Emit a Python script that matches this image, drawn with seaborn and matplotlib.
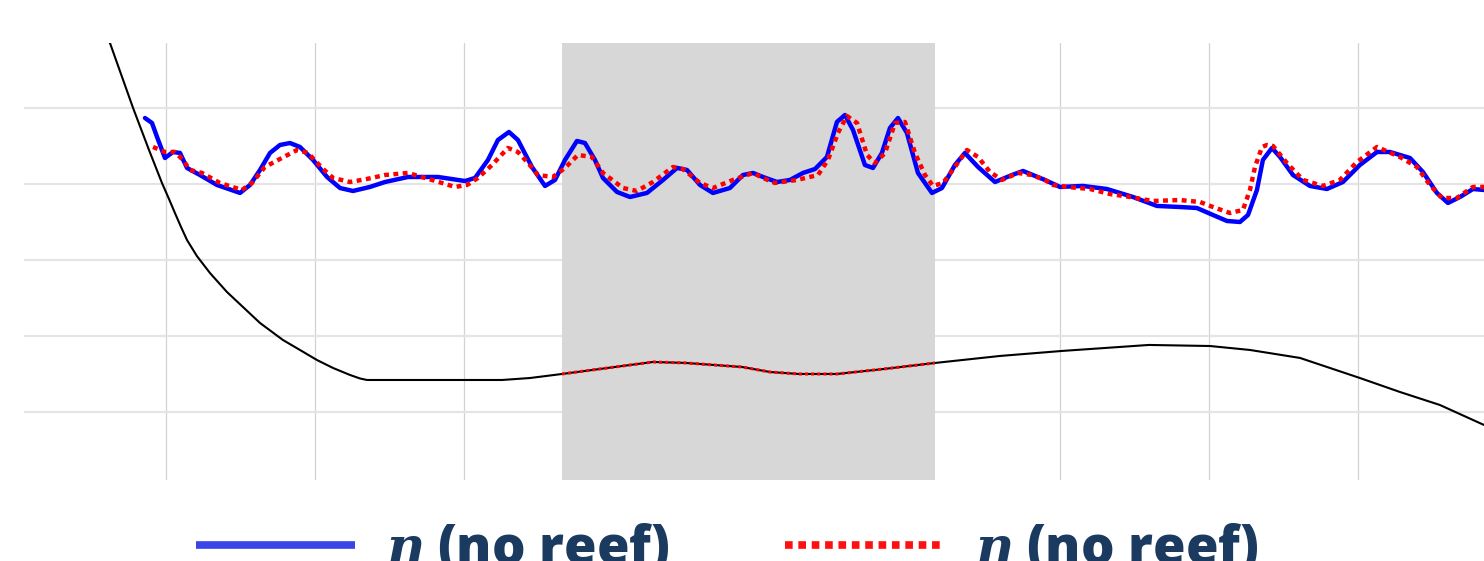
import numpy as np
import pandas as pd
import matplotlib
matplotlib.use('Agg')
import matplotlib.pyplot as plt
from matplotlib.lines import Line2D
import seaborn as sns

# surface elevation, no reef (solid blue)
blue_x = [0.859, 0.906, 0.940, 0.993, 1.047, 1.094, 1.141, 1.228, 1.342, 1.497, 1.564, 1.631, 1.698,
          1.765, 1.832, 1.899, 1.987, 2.081, 2.168, 2.255, 2.369, 2.470, 2.624, 2.826, 3.007, 3.074,
          3.161, 3.228, 3.302, 3.362, 3.456, 3.544, 3.611, 3.678, 3.758, 3.812, 3.879, 3.933, 4.027,
          4.114, 4.228, 4.336, 4.430, 4.497, 4.584, 4.671, 4.785, 4.872, 4.940, 5.007, 5.101, 5.188,
          5.275, 5.356, 5.436, 5.503, 5.557, 5.611, 5.691, 5.745, 5.805, 5.859, 5.913, 5.973, 6.047,
          6.141, 6.208, 6.295, 6.362, 6.450, 6.564, 6.678, 6.752, 6.899, 7.000, 7.154, 7.315, 7.490,
          7.651, 7.805, 7.919, 8.027, 8.121, 8.208, 8.262, 8.322, 8.362, 8.423, 8.477, 8.564, 8.678,
          8.792, 8.899, 9.013, 9.128, 9.215, 9.349, 9.436, 9.530, 9.604, 9.685, 9.772, 9.846]
blue_y = [3.868, 3.803, 3.618, 3.342, 3.421, 3.408, 3.211, 3.118, 2.987, 2.882, 2.987, 3.184, 3.408,
          3.513, 3.539, 3.487, 3.316, 3.092, 2.947, 2.908, 2.961, 3.026, 3.092, 3.092, 3.039, 3.079,
          3.316, 3.579, 3.684, 3.579, 3.224, 2.974, 3.053, 3.316, 3.566, 3.539, 3.316, 3.079, 2.895,
          2.829, 2.882, 3.053, 3.211, 3.184, 2.987, 2.882, 2.947, 3.118, 3.145, 3.092, 3.026, 3.053,
          3.145, 3.197, 3.355, 3.816, 3.908, 3.711, 3.250, 3.211, 3.408, 3.737, 3.868, 3.671, 3.145,
          2.882, 2.947, 3.250, 3.408, 3.224, 3.026, 3.118, 3.171, 3.053, 2.961, 2.974, 2.934, 2.829,
          2.711, 2.697, 2.684, 2.592, 2.513, 2.500, 2.592, 2.921, 3.316, 3.474, 3.355, 3.118, 2.974,
          2.934, 3.026, 3.250, 3.421, 3.421, 3.342, 3.158, 2.882, 2.750, 2.829, 2.934, 2.921]

# surface elevation, second run (dotted red)
red_x = [0.913, 0.993, 1.060, 1.114, 1.161, 1.242, 1.362, 1.510, 1.577, 1.664, 1.765, 1.879, 1.953,
         2.047, 2.121, 2.235, 2.349, 2.470, 2.624, 2.785, 2.940, 3.020, 3.094, 3.188, 3.295, 3.362,
         3.430, 3.497, 3.597, 3.678, 3.765, 3.859, 3.933, 4.067, 4.161, 4.268, 4.403, 4.470, 4.584,
         4.671, 4.805, 4.940, 5.007, 5.087, 5.235, 5.376, 5.443, 5.510, 5.570, 5.638, 5.705, 5.758,
         5.826, 5.893, 5.960, 6.027, 6.094, 6.148, 6.215, 6.295, 6.376, 6.450, 6.530, 6.611, 6.718,
         6.812, 6.899, 6.953, 7.047, 7.201, 7.336, 7.470, 7.624, 7.805, 7.940, 8.027, 8.141, 8.228,
         8.275, 8.309, 8.356, 8.389, 8.430, 8.523, 8.631, 8.765, 8.879, 8.993, 9.128, 9.282, 9.396,
         9.483, 9.564, 9.664, 9.772, 9.846]
red_y = [3.487, 3.421, 3.421, 3.316, 3.184, 3.145, 3.013, 2.921, 3.013, 3.224, 3.329, 3.447, 3.408,
         3.211, 3.079, 3.026, 3.066, 3.118, 3.145, 3.053, 2.961, 2.987, 3.079, 3.250, 3.474, 3.421,
         3.276, 3.118, 3.092, 3.211, 3.382, 3.355, 3.145, 2.947, 2.908, 3.026, 3.224, 3.197, 3.013,
         2.947, 3.053, 3.145, 3.079, 3.013, 3.053, 3.118, 3.316, 3.671, 3.895, 3.803, 3.382, 3.276,
         3.408, 3.803, 3.816, 3.408, 3.118, 2.974, 3.013, 3.224, 3.447, 3.355, 3.158, 3.053, 3.145,
         3.118, 3.053, 2.987, 2.961, 2.934, 2.868, 2.829, 2.776, 2.789, 2.763, 2.697, 2.618, 2.658,
         2.921, 3.224, 3.487, 3.513, 3.500, 3.276, 3.053, 2.974, 3.053, 3.289, 3.487, 3.355, 3.224,
         2.987, 2.816, 2.816, 2.961, 2.961]

# bed profile (black)
bed_x = [0.570, 0.624, 0.779, 0.886, 0.973, 1.020, 1.060, 1.101, 1.141, 1.208, 1.295, 1.409,
         1.631, 1.785, 1.899, 2.013, 2.121, 2.235, 2.302, 2.349, 2.503, 3.255, 3.443, 3.658, 4.013,
         4.268, 4.490, 4.866, 5.054, 5.248, 5.503, 5.819, 6.161, 6.597, 7.013, 7.597, 8.007, 8.275,
         8.611, 9.013, 9.282, 9.550, 9.846]
bed_y = [5.158, 4.855, 4.000, 3.447, 3.013, 2.803, 2.618, 2.434, 2.263, 2.050, 1.829, 1.579,
         1.171, 0.947, 0.816, 0.684, 0.579, 0.487, 0.441, 0.421, 0.421, 0.421, 0.447, 0.500, 0.592,
         0.658, 0.645, 0.592, 0.526, 0.500, 0.500, 0.566, 0.645, 0.737, 0.803, 0.882, 0.868, 0.816,
         0.711, 0.447, 0.263, 0.092, -0.171]

# reef zone
reef_start = 3.658
reef_end = 6.161

blue_df = pd.DataFrame({'x': blue_x, 'eta': blue_y})
red_df = pd.DataFrame({'x': red_x, 'eta': red_y})
bed_df = pd.DataFrame({'x': bed_x, 'z': bed_y})
reef_df = bed_df[(bed_df['x'] >= reef_start) & (bed_df['x'] <= reef_end)]

sns.set_style('white')
plt.rcParams['font.family'] = ['Open Sans', 'DejaVu Sans']
plt.rcParams['mathtext.fontset'] = 'custom'
plt.rcParams['mathtext.it'] = 'DejaVu Serif:italic:bold'
plt.rcParams['lines.solid_joinstyle'] = 'round'
plt.rcParams['lines.solid_capstyle'] = 'round'

fig = plt.figure(figsize=(14.84, 5.61), dpi=100)
ax = fig.add_axes([24 / 1484, 81 / 561, 1460 / 1484, 437 / 561])

ax.axvspan(reef_start, reef_end, color='#d7d7d7', lw=0, zorder=1)

sns.lineplot(data=bed_df, x='x', y='z', ax=ax, color='black', lw=1.5, zorder=3)
sns.lineplot(data=reef_df, x='x', y='z', ax=ax, color='red', lw=2.2, ls=(0, (1, 1)), zorder=4)
sns.lineplot(data=blue_df, x='x', y='eta', ax=ax, color='#0000ff', lw=3.2, zorder=5)
sns.lineplot(data=red_df, x='x', y='eta', ax=ax, color='#ff0000', lw=3.2, ls=(0, (1.1, 1.0)), zorder=6)

ax.set_xlim(0.047, 9.846)
ax.set_ylim(-0.895, 4.855)
ax.set_xticks(range(1, 10))
ax.set_yticks(range(0, 5))
ax.xaxis.grid(True, color='#d2d2d2', lw=0.9)
ax.yaxis.grid(True, color='#e4e4e4', lw=1.6)
ax.set_axisbelow(True)
ax.tick_params(left=False, bottom=False, labelleft=False, labelbottom=False)
ax.set_xlabel('')
ax.set_ylabel('')
for s in ax.spines.values():
    s.set_visible(False)

handles = [Line2D([], [], color='#3a44e8', lw=5.5, solid_capstyle='butt'),
           Line2D([], [], color='#ff1010', lw=5.5, ls=(0, (1, 0.75)))]
fig.legend(handles, [r'$\eta$ (no reef)', r'$\eta$ (no reef)'], loc='center',
           bbox_to_anchor=(0.49, 0.022), ncol=2, frameon=False,
           prop={'size': 38, 'weight': 'heavy'}, labelcolor='#1b3a5f',
           handlelength=3.0, handletextpad=0.57, columnspacing=2.2)

fig.savefig('out.png', dpi=100)
